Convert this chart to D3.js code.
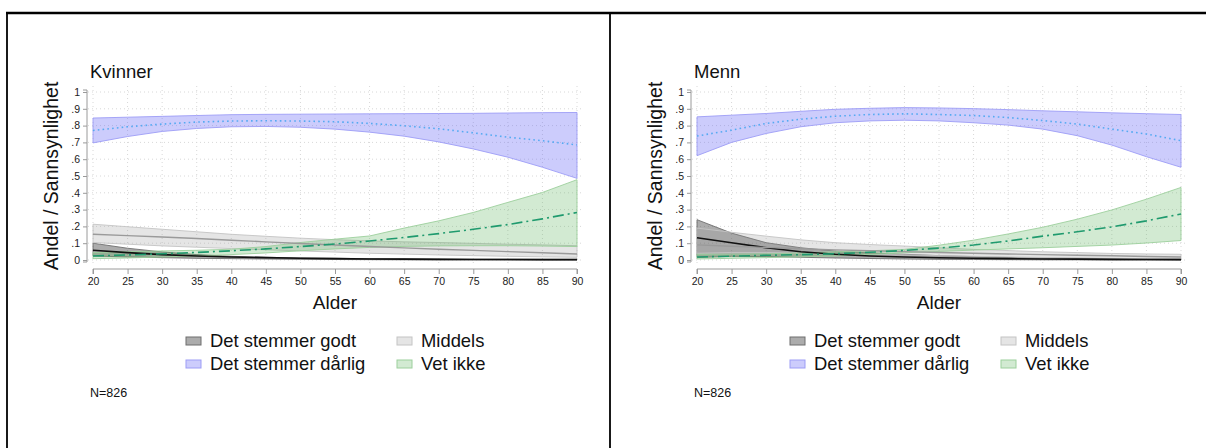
<!DOCTYPE html>
<html>
<head>
<meta charset="utf-8">
<script src="https://cdn.jsdelivr.net/npm/d3@7"></script>
<style>
  html, body { margin: 0; padding: 0; background: #fff; }
  svg { display: block; font-family: "Liberation Sans", Arial, sans-serif; }
</style>
</head>
<body>
<svg id="chart" width="1206" height="448"></svg>
<script>
// Age grid shared by both panels
const ages = [20, 25, 30, 35, 40, 45, 50, 55, 60, 65, 70, 75, 80, 85, 90];
const xTicks = [20, 25, 30, 35, 40, 45, 50, 55, 60, 65, 70, 75, 80, 85, 90];
const yTicks = [0, .1, .2, .3, .4, .5, .6, .7, .8, .9, 1];
const yTickLabels = ["0", ".1", ".2", ".3", ".4", ".5", ".6", ".7", ".8", ".9", "1"];
const categories = ["Det stemmer godt", "Middels", "Det stemmer dårlig", "Vet ikke"];
const panelTitles = ["Kvinner", "Menn"];
const noteText = "N=826";

// Kvinner: predicted probability with lower/upper confidence bounds
const kvGodt     = [.058, .044, .032, .024, .018, .014, .010, .008, .006, .005, .004, .003, .003, .002, .002];
const kvGodtLo   = [.024, .018, .014, .010, .008, .006, .004, .003, .002, .001, .001, .001, .000, .000, .000];
const kvGodtHi   = [.100, .070, .048, .032, .022, .016, .012, .010, .008, .007, .006, .005, .005, .004, .004];
const kvMiddels   = [.153, .145, .137, .128, .118, .108, .098, .089, .080, .072, .064, .057, .050, .043, .036];
const kvMiddelsLo = [.104, .094, .084, .076, .068, .061, .054, .047, .040, .035, .030, .026, .022, .019, .016];
const kvMiddelsHi = [.213, .198, .183, .168, .153, .141, .130, .121, .114, .108, .104, .099, .094, .090, .085];
const kvDarlig   = [.771, .793, .809, .821, .827, .829, .827, .823, .813, .799, .781, .757, .731, .710, .685];
const kvDarligLo = [.697, .735, .765, .783, .793, .795, .790, .779, .761, .737, .703, .661, .612, .552, .486];
const kvDarligHi = [.845, .850, .855, .860, .865, .867, .868, .869, .870, .871, .872, .873, .875, .877, .878];
const kvVetIkke   = [.024, .030, .037, .045, .055, .066, .080, .095, .113, .134, .157, .183, .211, .245, .283];
const kvVetIkkeLo = [.008, .012, .018, .024, .032, .042, .055, .066, .075, .081, .084, .085, .085, .083, .080];
const kvVetIkkeHi = [.044, .049, .054, .058, .064, .080, .104, .124, .143, .190, .233, .283, .343, .402, .478];

// Menn: predicted probability with lower/upper confidence bounds
const mnGodt     = [.132, .103, .073, .049, .034, .024, .018, .013, .010, .008, .006, .005, .004, .003, .002];
const mnGodtLo   = [.015, .022, .020, .016, .012, .009, .006, .004, .003, .002, .001, .001, .000, .000, .000];
const mnGodtHi   = [.240, .160, .103, .073, .053, .042, .034, .026, .020, .015, .012, .010, .008, .007, .006];
const mnMiddels   = [.090, .082, .075, .067, .060, .055, .050, .045, .040, .036, .032, .028, .025, .021, .018];
const mnMiddelsLo = [.040, .045, .045, .040, .035, .032, .030, .026, .022, .018, .015, .012, .010, .008, .006];
const mnMiddelsHi = [.190, .165, .142, .120, .103, .092, .083, .073, .063, .056, .049, .044, .039, .036, .034];
const mnDarlig   = [.738, .773, .813, .838, .856, .866, .870, .866, .860, .848, .830, .809, .779, .750, .710];
const mnDarligLo = [.621, .700, .753, .793, .817, .828, .832, .828, .817, .803, .779, .740, .684, .615, .552];
const mnDarligHi = [.852, .862, .872, .885, .897, .903, .907, .905, .901, .895, .888, .882, .876, .871, .866];
const mnVetIkke   = [.018, .023, .028, .032, .037, .046, .057, .071, .089, .113, .142, .168, .197, .233, .274];
const mnVetIkkeLo = [.006, .010, .014, .019, .024, .033, .043, .051, .059, .066, .073, .081, .089, .101, .116];
const mnVetIkkeHi = [.034, .035, .037, .042, .049, .055, .063, .088, .118, .155, .195, .243, .298, .362, .432];

// Visual style per outcome (fill, outline, estimate line)
const styles = {
  "Det stemmer godt":   { fill: "rgba(70,70,70,0.45)",   stroke: "#6e6e6e", line: "#111111", width: 1.6, dash: null },
  "Middels":            { fill: "rgba(150,150,150,0.25)", stroke: "#c4c4c4", line: "#9a9a9a", width: 1.4, dash: null },
  "Det stemmer dårlig": { fill: "rgba(105,105,245,0.34)", stroke: "#9d9df6", line: "#55aaf2", width: 1.6, dash: "1.6,3.2" },
  "Vet ikke":           { fill: "rgba(95,180,95,0.28)",   stroke: "#9ccf9c", line: "#1f9a6e", width: 1.6, dash: "11,4,2,4" }
};

const panels = [
  {
    title: panelTitles[0], ox: 0,
    series: {
      "Det stemmer godt":   [kvGodt, kvGodtLo, kvGodtHi],
      "Middels":            [kvMiddels, kvMiddelsLo, kvMiddelsHi],
      "Det stemmer dårlig": [kvDarlig, kvDarligLo, kvDarligHi],
      "Vet ikke":           [kvVetIkke, kvVetIkkeLo, kvVetIkkeHi]
    }
  },
  {
    title: panelTitles[1], ox: 604,
    series: {
      "Det stemmer godt":   [mnGodt, mnGodtLo, mnGodtHi],
      "Middels":            [mnMiddels, mnMiddelsLo, mnMiddelsHi],
      "Det stemmer dårlig": [mnDarlig, mnDarligLo, mnDarligHi],
      "Vet ikke":           [mnVetIkke, mnVetIkkeLo, mnVetIkkeHi]
    }
  }
];

const svg = d3.select("#chart");

// Outer frame: top rule and panel dividers
svg.append("line").attr("x1", 6).attr("x2", 1206).attr("y1", 13).attr("y2", 13)
  .attr("stroke", "#000").attr("stroke-width", 2.4);
[7, 610].forEach(x => {
  svg.append("line").attr("x1", x).attr("x2", x).attr("y1", 12).attr("y2", 448)
    .attr("stroke", "#000").attr("stroke-width", 1.8);
});

panels.forEach(p => {
  const g = svg.append("g").attr("transform", `translate(${p.ox},0)`);
  const x = d3.scaleLinear().domain([20, 90]).range([93, 577]);
  const y = d3.scaleLinear().domain([0, 1]).range([260, 92]);

  // Dotted grid
  const grid = g.append("g").attr("stroke", "#d8d8d8").attr("stroke-width", 1).attr("stroke-dasharray", "1,3");
  yTicks.forEach(v => {
    grid.append("line").attr("x1", 88).attr("x2", 584).attr("y1", y(v)).attr("y2", y(v));
  });
  xTicks.forEach(v => {
    grid.append("line").attr("x1", x(v)).attr("x2", x(v)).attr("y1", 86).attr("y2", 266);
  });

  // Confidence bands and estimates
  const area = d3.area().x((d, i) => x(ages[i])).y0(d => y(d[0])).y1(d => y(d[1]));
  const line = d3.line().x((d, i) => x(ages[i])).y(d => y(d));
  categories.forEach(c => {
    const [est, lo, hi] = p.series[c];
    const st = styles[c];
    const band = ages.map((a, i) => [lo[i], hi[i]]);
    g.append("path").datum(band).attr("d", area)
      .attr("fill", st.fill).attr("stroke", st.stroke).attr("stroke-width", 0.9);
  });
  categories.forEach(c => {
    const [est] = p.series[c];
    const st = styles[c];
    g.append("path").datum(est).attr("d", line)
      .attr("fill", "none").attr("stroke", st.line).attr("stroke-width", st.width)
      .attr("stroke-dasharray", st.dash);
  });

  // Y axis
  const yAxis = g.append("g").attr("transform", "translate(87,0)")
    .call(d3.axisLeft(y).tickValues(yTicks).tickSize(4).tickPadding(3)
      .tickFormat((d, i) => yTickLabels[i]));
  // X axis
  const xAxis = g.append("g").attr("transform", "translate(0,269)")
    .call(d3.axisBottom(x).tickValues(xTicks).tickSize(5).tickPadding(4));
  [yAxis, xAxis].forEach(ax => {
    ax.select(".domain").attr("stroke", "#9a9a9a");
    ax.selectAll(".tick line").attr("stroke", "#9a9a9a");
    ax.selectAll(".tick text").attr("fill", "#222").style("font-size", "10.5px")
      .style("font-family", "Liberation Sans, Arial, sans-serif");
  });
  xAxis.select(".domain").attr("d", `M${x(20)},5V0H${x(90)}V5`);
  yAxis.select(".domain").attr("d", `M-4,${y(0) + 2}H0V${y(1) - 2}H-4`);

  // Titles
  g.append("text").attr("x", 90).attr("y", 78).attr("font-size", 18.5).attr("fill", "#111").text(p.title);
  g.append("text").attr("transform", "translate(58,176) rotate(-90)").attr("text-anchor", "middle")
    .attr("font-size", 19.5).attr("fill", "#111").text("Andel / Sannsynlighet");
  g.append("text").attr("x", (x(20) + x(90)) / 2).attr("y", 309).attr("text-anchor", "middle")
    .attr("font-size", 19).attr("fill", "#111").text("Alder");

  // Legend (two columns, row-wise)
  const legPos = [[186, 341], [397, 341], [186, 364], [397, 364]];
  categories.forEach((c, i) => {
    const st = styles[c];
    const [lx, ly] = legPos[i];
    g.append("rect").attr("x", lx).attr("y", ly - 4).attr("width", 15).attr("height", 8)
      .attr("fill", "#fff");
    g.append("rect").attr("x", lx).attr("y", ly - 4).attr("width", 15).attr("height", 8)
      .attr("fill", st.fill).attr("stroke", st.stroke).attr("stroke-width", 1);
    g.append("text").attr("x", lx + 24).attr("y", ly + 6).attr("font-size", 18.4)
      .attr("fill", "#111").text(c);
  });

  g.append("text").attr("x", 90).attr("y", 397).attr("font-size", 12.5).attr("fill", "#111").text(noteText);
});
</script>
</body>
</html>
